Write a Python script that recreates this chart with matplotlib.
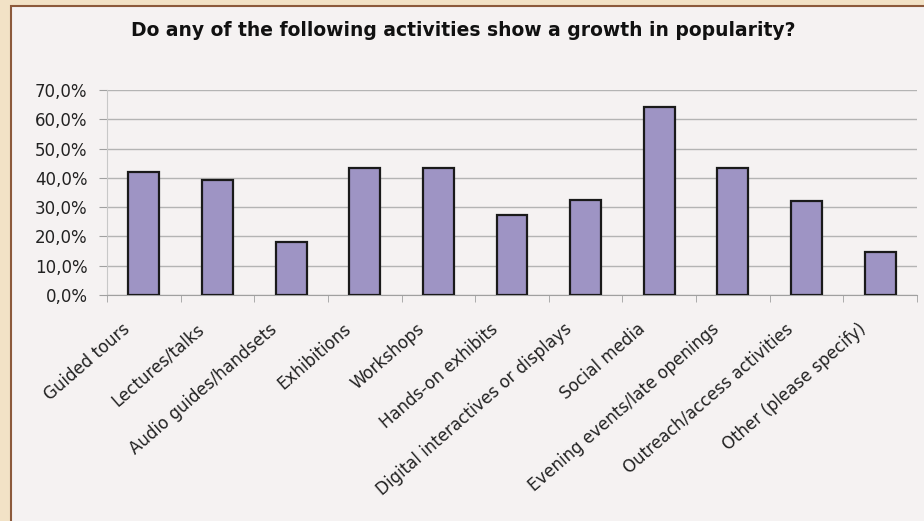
import numpy as np
import matplotlib.pyplot as plt
import matplotlib.transforms as mtransforms
from matplotlib.patches import Rectangle
from matplotlib.ticker import FuncFormatter

plt.rcParams['font.family'] = ['DejaVu Sans']

activities = ['Guided tours', 'Lectures/talks', 'Audio guides/handsets', 'Exhibitions',
              'Workshops', 'Hands-on exhibits', 'Digital interactives or displays',
              'Social media', 'Evening events/late openings', 'Outreach/access activities',
              'Other (please specify)']
growth = [41.9, 39.4, 18.0, 43.2, 43.2, 27.3, 32.6, 64.3, 43.3, 32.2, 14.8]

fig = plt.figure(figsize=(9.24, 5.21), dpi=100)
fig.patch.set_facecolor('#f2e2c6')

# inner panel with brown border
panel = Rectangle((11/924, -0.01), 1.0, (521-6)/521 + 0.01, transform=fig.transFigure,
                  facecolor='#f5f2f2', edgecolor='#8c5a3c', linewidth=1.5, zorder=-10)
fig.add_artist(panel)

ax = fig.add_axes([107/924, (521-295)/521, 810/924, 205/521])
ax.set_facecolor('none')

x = np.arange(len(activities))
ax.bar(x, growth, width=0.42, color='#9e94c4', edgecolor='#1a1a1a', linewidth=1.6, zorder=3)

ax.set_xlim(-0.5, len(activities) - 0.5)
ax.set_ylim(0, 70)
ax.set_yticks(np.arange(0, 71, 10))
ax.yaxis.set_major_formatter(FuncFormatter(lambda v, p: ('%.1f%%' % v).replace('.', ',')))
ax.grid(axis='y', color='#b4b4b4', linewidth=1.0, zorder=0)

ax.set_xticks(x)
ax.set_xticklabels(activities, rotation=41, ha='right', rotation_mode='anchor', fontsize=12,
                   color='#222222')
ax.set_xticks(np.arange(-0.5, len(activities)), minor=True)
ax.tick_params(axis='x', which='major', length=0, pad=8)
ax.tick_params(axis='x', which='minor', length=5, color='#a0a0a0', direction='out')
ax.tick_params(axis='y', length=6, color='#a0a0a0', labelsize=12, pad=8, labelcolor='#222222')

# move the slanted labels a bit down and to the left
shift = mtransforms.ScaledTranslation(-0.22, -0.14, fig.dpi_scale_trans)
for lbl in ax.get_xticklabels():
    lbl.set_transform(lbl.get_transform() + shift)

for s in ['top', 'right']:
    ax.spines[s].set_visible(False)
ax.spines['left'].set_color('#c8c8c8')
ax.spines['bottom'].set_color('#a0a0a0')

fig.text(463/924, 1 - 31/521, 'Do any of the following activities show a growth in popularity?',
         ha='center', va='center', fontsize=13.5, fontweight='bold', color='#111111')

fig.savefig('out.png', dpi=100, facecolor=fig.get_facecolor())
